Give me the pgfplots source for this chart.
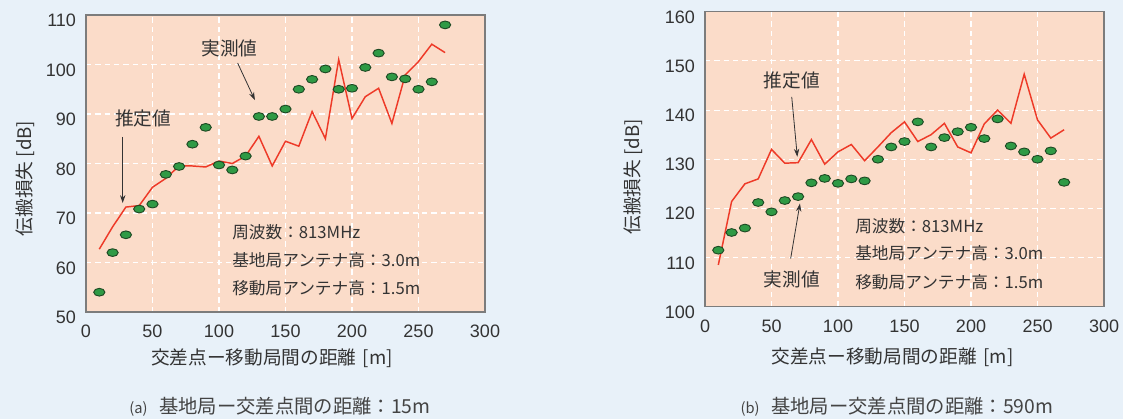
\documentclass[border=0pt]{standalone}
\usepackage{fontspec}
\usepackage{pgfplots}
\pgfplotsset{compat=1.18}
\usetikzlibrary{arrows.meta}
\setmainfont{Noto Sans CJK JP}
\newfontfamily\numfont{Liberation Sans}
\definecolor{bgblue}{HTML}{E8F1F9}
\definecolor{peach}{HTML}{FBDCC9}
\definecolor{framegray}{HTML}{7C7C7C}
\definecolor{txt}{HTML}{333333}
\definecolor{capt}{HTML}{444444}
\definecolor{redline}{HTML}{EE3A28}
\definecolor{dotgreen}{HTML}{2F9A45}
\definecolor{dotdark}{HTML}{1E4A24}
\pgfplotsset{
  myaxis/.style={
    scale only axis, width=299.25pt,
    xmin=0, xmax=300, xtick={0,50,...,300},
    grid=major, grid style={white, dash pattern=on 4pt off 3pt, line width=0.8pt},
    axis background/.style={fill=peach},
    axis line style={framegray, line width=0.9pt},
    major tick length=0pt,
    /pgf/number format/assume math mode=true,
    tick label style={font=\numfont\fontsize{13.5}{15}\selectfont, text=txt},
    yticklabel style={xshift=-4pt, yshift=-4pt},
    xticklabel style={yshift=-6pt},
    every axis y label/.style={rotate=90, anchor=center, font=\fontsize{14}{16}\selectfont, text=txt},
    every axis x label/.style={anchor=center, font=\fontsize{14}{16}\selectfont, text=txt},
    clip=false,
  },
  est/.style={redline, line width=1.1pt, mark=none},
  meas/.style={only marks, mark=*, mark size=2.9pt, mark options={xscale=1.45, fill=dotgreen, draw=dotdark, line width=0.7pt}},
}
\tikzset{
  ann/.style={text=txt, font=\fontsize{14}{16}\selectfont},
  info/.style={anchor=west, text=txt, font=\fontsize{12.5}{15}\selectfont, inner sep=0pt},
  arr/.style={-{Stealth[length=6pt,width=4pt]}, black!80, line width=0.6pt},
}
\begin{document}
\begin{tikzpicture}
\fill[bgblue] (0,0) rectangle (842.25pt,314.25pt);
\useasboundingbox (0,0) rectangle (842.25pt,314.25pt);
% ---------------- (a)
\begin{axis}[myaxis, at={(64.5pt,80.25pt)}, anchor=south west, height=222.75pt,
  ymin=50, ymax=110, ytick={50,60,...,110},
  ylabel={伝搬損失 [dB]}, ylabel style={at={(axis description cs:-0.153,0.45)}},
  xlabel={交差点ー移動局間の距離\hspace{0.35em}[m]}, xlabel style={at={(axis description cs:0.466,-0.155)}}]
\addplot[est] coordinates {(10,62.7)(20,67.2)(30,71.2)(40,71.5)(50,75.2)(60,77)(70,79.5)(80,79.5)(90,79.3)(100,80.5)(110,80)(120,81.5)(130,85.5)(140,79.5)(150,84.5)(160,83.5)(170,90.5)(180,85)(190,101)(200,89.1)(210,93.5)(220,95.2)(230,88.1)(240,97.9)(250,100.6)(260,104.1)(270,102.4)};
\addplot[meas] coordinates {(10,54)(20,62)(30,65.6)(40,70.8)(50,71.8)(60,77.8)(70,79.4)(80,83.9)(90,87.3)(100,79.7)(110,78.7)(120,81.5)(130,89.5)(140,89.5)(150,91)(160,95)(170,97)(180,99.1)(190,95)(200,95.2)(210,99.4)(220,102.3)(230,97.5)(240,97.1)(250,95)(260,96.5)(270,108)};
\node[ann] at (axis cs:42.9,89.2) {推定値};
\draw[arr] (axis cs:27.6,85.4) -- (axis cs:27.6,72);
\node[ann] at (axis cs:108,103.3) {実測値};
\draw[arr] (axis cs:114,100.3) -- (axis cs:127,92.8);
\node[info] at (axis cs:109.8,66.2) {周波数：813MHz};
\node[info] at (axis cs:109.8,60.5) {基地局アンテナ高：3.0m};
\node[info] at (axis cs:109.8,54.8) {移動局アンテナ高：1.5m};
\node[text=capt, font=\fontsize{14.5}{16}\selectfont] at (axis description cs:0.486,-0.32) {{\fontsize{11}{12}\selectfont (a)}\hspace{0.6em}基地局ー交差点間の距離：15m};
\end{axis}
% ---------------- (b)
\begin{axis}[myaxis, at={(528.75pt,84.2pt)}, anchor=south west, height=221.25pt,
  ymin=100, ymax=160, ytick={100,110,...,160},
  ylabel={伝搬損失 [dB]}, ylabel style={at={(axis description cs:-0.18,0.44)}},
  xlabel={交差点ー移動局間の距離\hspace{0.35em}[m]}, xlabel style={at={(axis description cs:0.47,-0.17)}}]
\addplot[est] coordinates {(10,108.5)(20,121.4)(30,125)(40,126)(50,132)(60,129.2)(70,129.3)(80,134)(90,129)(100,131.5)(110,133)(120,129.7)(130,132.5)(140,135.4)(150,137.6)(160,133.6)(170,135)(180,137.3)(190,132.5)(200,131.3)(210,137.2)(220,140)(230,137.3)(240,147.3)(250,138)(260,134.3)(270,136)};
\addplot[meas] coordinates {(10,111.5)(20,115.1)(30,116)(40,121.2)(50,119.3)(60,121.6)(70,122.4)(80,125.2)(90,126.1)(100,125.1)(110,126)(120,125.6)(130,130)(140,132.5)(150,133.6)(160,137.6)(170,132.5)(180,134.4)(190,135.6)(200,136.5)(210,134.2)(220,138.2)(230,132.7)(240,131.5)(250,130)(260,131.7)(270,125.3)};
\node[ann] at (axis cs:65.2,146.1) {推定値};
\draw[arr] (axis cs:65.2,142.7) -- (axis cs:69.4,130.5);
\node[ann] at (axis cs:65.2,105.6) {実測値};
\draw[arr] (axis cs:64.4,109.8) -- (axis cs:71.4,121.0);
\node[info] at (axis cs:112.8,116.4) {周波数：813MHz};
\node[info] at (axis cs:112.8,110.9) {基地局アンテナ高：3.0m};
\node[info] at (axis cs:112.8,105.0) {移動局アンテナ高：1.5m};
\node[text=capt, font=\fontsize{14.5}{16}\selectfont] at (axis description cs:0.481,-0.34) {{\fontsize{11}{12}\selectfont (b)}\hspace{0.6em}基地局ー交差点間の距離：590m};
\end{axis}
\end{tikzpicture}
\end{document}
